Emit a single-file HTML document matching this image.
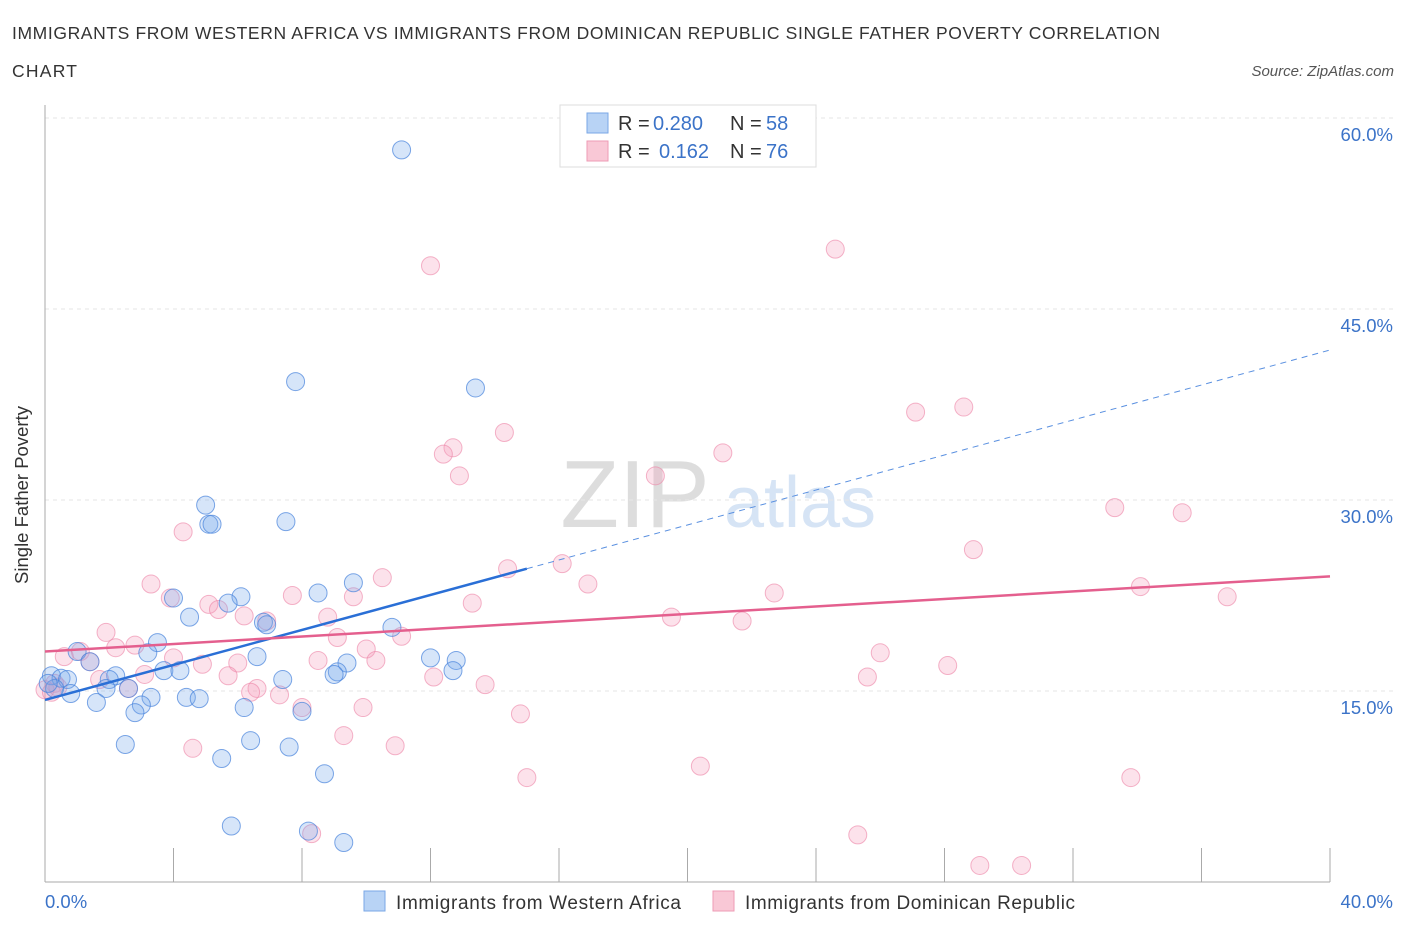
<!DOCTYPE html>
<html><head><meta charset="utf-8"><style>
body{margin:0;background:#fff;font-family:"Liberation Sans",sans-serif;}
svg text{font-family:"Liberation Sans",sans-serif;}
</style></head><body>
<svg id="c" width="1406" height="930">
<text x="12" y="39" font-size="17.5" fill="#333" textLength="1148" lengthAdjust="spacing">IMMIGRANTS FROM WESTERN AFRICA VS IMMIGRANTS FROM DOMINICAN REPUBLIC SINGLE FATHER POVERTY CORRELATION</text>
<text x="12" y="77" font-size="17.5" fill="#333" textLength="65" lengthAdjust="spacing">CHART</text>
<text x="1394" y="76" font-size="15" fill="#555" font-style="italic" text-anchor="end">Source: ZipAtlas.com</text>
<text x="28" y="495" font-size="18.5" fill="#333" text-anchor="middle" transform="rotate(-90 28 495)">Single Father Poverty</text>
<text x="635" y="527" font-size="96" fill="#ddd" font-family="Liberation Serif" text-anchor="middle">ZIP</text>
<text x="800" y="527" font-size="72" fill="#d6e4f5" text-anchor="middle">atlas</text>
<g id="grid"></g><g id="pts"></g><g id="trend"></g>
<g>
<rect x="560" y="105" width="256" height="62" fill="#fff" stroke="#ddd"/>
<rect x="587" y="113" width="21" height="20" fill="#b8d3f5" stroke="#7aa7e6"/>
<text x="618" y="130" font-size="20" fill="#333">R =</text>
<text x="653" y="130" font-size="20" fill="#3b73c8">0.280</text>
<text x="730" y="130" font-size="20" fill="#333">N =</text>
<text x="766" y="130" font-size="20" fill="#3b73c8">58</text>
<rect x="587" y="141" width="21" height="20" fill="#f9c8d6" stroke="#ee9bb5"/>
<text x="618" y="158" font-size="20" fill="#333">R =</text>
<text x="659" y="158" font-size="20" fill="#3b73c8">0.162</text>
<text x="730" y="158" font-size="20" fill="#333">N =</text>
<text x="766" y="158" font-size="20" fill="#3b73c8">76</text>
</g>
<g>
<rect x="364" y="891" width="21" height="20" fill="#b8d3f5" stroke="#7aa7e6"/>
<text x="396" y="909" font-size="19" fill="#333" textLength="285" lengthAdjust="spacing">Immigrants from Western Africa</text>
<rect x="713" y="891" width="21" height="20" fill="#f9c8d6" stroke="#ee9bb5"/>
<text x="745" y="909" font-size="19" fill="#333" textLength="330" lengthAdjust="spacing">Immigrants from Dominican Republic</text>
</g>
</svg>
<script>
const yTicks=[15,30,45,60];
const xTickLabels=["0.0%","40.0%"];
const blueX=[11.1,7.8,13.4,5.0,5.1,5.2,7.5,9.6,8.5,6.1,4.0,5.7,4.5,6.8,6.9,10.8,3.5,3.2,1.0,1.4,12.0,12.8,9.4,6.6,9.1,9.0,12.7,3.7,4.2,2.2,2.0,0.2,0.5,0.7,0.3,7.4,1.9,2.6,0.8,3.3,4.4,4.8,1.6,3.0,2.8,6.2,8.0,2.5,6.4,7.6,5.5,8.7,5.8,8.2,9.3,0.1];
const blueY=[57.5,39.3,38.8,29.6,28.1,28.1,28.3,23.5,22.7,22.4,22.3,21.9,20.8,20.4,20.2,20.0,18.8,18.0,18.1,17.3,17.6,17.4,17.2,17.7,16.5,16.3,16.6,16.6,16.6,16.2,15.9,16.2,16.0,15.9,15.2,15.9,15.2,15.2,14.8,14.5,14.5,14.4,14.1,13.9,13.3,13.7,13.4,10.8,11.1,10.6,9.7,8.5,4.4,4.0,3.1,15.6];
const pinkX=[24.6,12.0,28.6,27.1,14.3,12.7,12.4,21.1,12.9,19.0,33.3,35.4,4.3,28.9,16.1,14.4,3.3,10.5,16.9,34.1,22.7,7.7,9.6,3.9,36.8,5.1,5.4,13.3,6.2,8.8,19.5,21.7,6.9,1.9,9.1,11.1,2.8,2.2,1.1,10.0,26.0,4.0,8.5,10.3,0.6,1.4,6.0,4.9,28.1,3.1,5.7,25.6,12.1,1.7,0.3,13.7,2.6,6.6,6.4,7.3,8.0,9.9,14.8,0.0,0.2,9.3,10.9,4.6,20.4,15.0,33.8,25.3,8.3,29.1,30.4,0.4];
const pinkY=[49.7,48.4,37.3,36.9,35.3,34.1,33.6,33.7,31.9,31.9,29.4,29.0,27.5,26.1,25.0,24.6,23.4,23.9,23.4,23.2,22.7,22.5,22.4,22.3,22.4,21.8,21.4,21.9,20.9,20.8,20.8,20.5,20.5,19.6,19.2,19.3,18.6,18.4,18.1,18.3,18.0,17.6,17.4,17.4,17.7,17.3,17.2,17.1,17.0,16.3,16.2,16.1,16.1,15.9,15.6,15.5,15.2,15.2,14.9,14.7,13.7,13.7,13.2,15.1,14.9,11.5,10.7,10.5,9.1,8.2,8.2,3.7,3.8,1.3,1.3,15.3];
const blueTrend=[14.3,0.687];
const pinkTrend=[18.1,0.1475];
const X0=45,X1=1330,Y0=882,PPY=12.733;
const sx=v=>X0+(X1-X0)*v/40, sy=v=>Y0-v*PPY;
const NS="http://www.w3.org/2000/svg";
function mk(t,a,p){const e=document.createElementNS(NS,t);for(const k in a)e.setAttribute(k,a[k]);p.appendChild(e);return e;}
const grid=document.getElementById('grid');
yTicks.forEach(t=>{
 const l=mk('line',{x1:X0,x2:1395,y1:sy(t),y2:sy(t),stroke:'#e6e6e6','stroke-dasharray':'4,4'},grid);
 
 
 const tx=mk('text',{x:1393,y:sy(t)+23,'font-size':18.5,fill:'#3b73c8','text-anchor':'end'},grid);
 tx.textContent=t.toFixed(1)+'%';
 
 
});
const ax=mk('line',{x1:X0,x2:X0,y1:105,y2:Y0,stroke:'#aaa'},grid);


const bx=mk('line',{x1:X0,x2:X1,y1:Y0,y2:Y0,stroke:'#aaa'},grid);


for(let i=0;i<=10;i++){const t=mk('line',{x1:sx(i*4),x2:sx(i*4),y1:Y0-34,y2:Y0,stroke:'#aaa'},grid);
 
 }
[[0,'start',X0],[1,'end',1393]].forEach(([i,a,x])=>{const t=mk('text',{x:x,y:908,'font-size':18.5,fill:'#3b73c8','text-anchor':a},grid);t.textContent=xTickLabels[i];
 
 });
const pts=document.getElementById('pts');
function plot(xs,ys,fill,stroke,name){xs.forEach((x,i)=>{const c=mk('circle',{cx:sx(x),cy:sy(ys[i]),r:9,fill:fill,stroke:stroke,'stroke-width':1},pts);
 
 });}
plot(pinkX,pinkY,'rgba(244,160,188,0.3)','rgba(236,130,165,0.6)','pink-point');
plot(blueX,blueY,'rgba(120,170,235,0.3)','rgba(70,130,220,0.7)','blue-point');
const tr=document.getElementById('trend');
let l=mk('line',{x1:sx(0),y1:sy(blueTrend[0]),x2:sx(15),y2:sy(blueTrend[0]+15*blueTrend[1]),stroke:'#2a6fd6','stroke-width':2.5},tr);


l=mk('line',{x1:sx(15),y1:sy(blueTrend[0]+15*blueTrend[1]),x2:sx(40),y2:sy(blueTrend[0]+40*blueTrend[1]),stroke:'#5a90e0','stroke-width':1,'stroke-dasharray':'6,5'},tr);


l=mk('line',{x1:sx(0),y1:sy(pinkTrend[0]),x2:sx(40),y2:sy(pinkTrend[0]+40*pinkTrend[1]),stroke:'#e45f8e','stroke-width':2.5},tr);


</script>
</body></html>
